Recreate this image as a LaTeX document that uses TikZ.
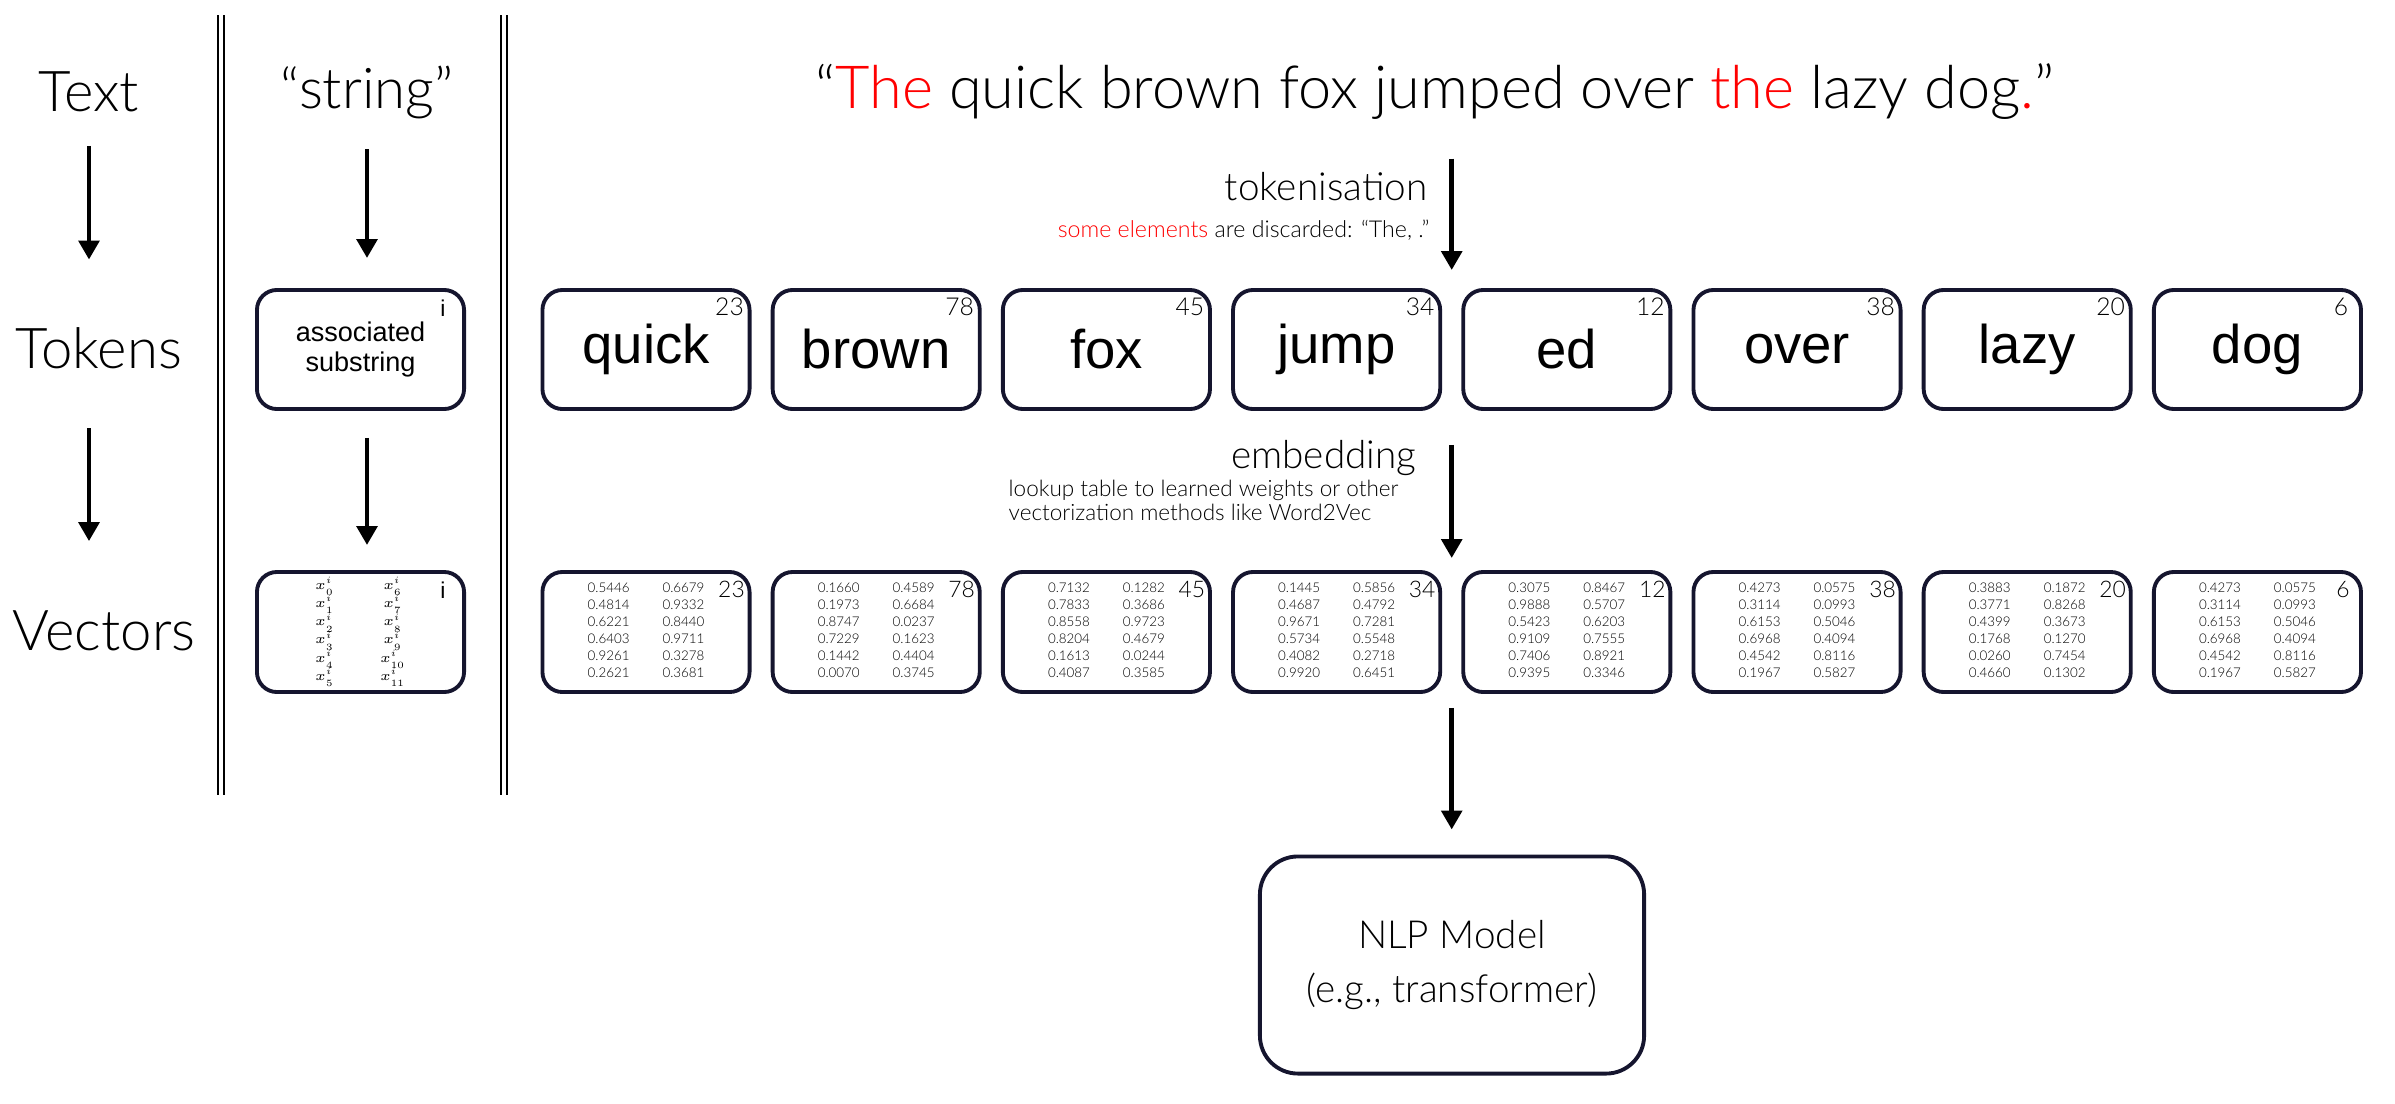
\documentclass[tikz,border=0pt]{standalone}
\usepackage{fix-cm}
\usepackage{fontspec}
\IfFontExistsTF{Lato Light}{\setmainfont{Lato Light}}{\setmainfont{Lato}}
\newfontfamily\helv{Liberation Sans}
\usetikzlibrary{arrows.meta,calc,positioning}
\definecolor{boxline}{HTML}{15152E}

% two columns of vector entries
\newcommand{\vpair}[2]{\makebox[21.3pt][l]{\begin{tabular}{@{}l@{}}#1\end{tabular}}\begin{tabular}{@{}l@{}}#2\end{tabular}}

\tikzset{
  arr/.style={line width=1.4pt, -{Triangle[width=5.8pt,length=5.4pt]}},
  sep/.style={double, double distance=1.3pt, line width=0.5pt},
  rbox/.style={draw=boxline, line width=1.1pt, rounded corners=0.2cm,
    minimum width=2.07cm, minimum height=1.19cm, inner sep=0pt},
  tokbox/.style={rbox, font=\helv\fontsize{15.5}{18}\selectfont},
  vecbox/.style={rbox, minimum height=1.2cm, font=\fontsize{3.8}{4.84}\selectfont},
  idx/.style={inner sep=0pt, font=\fontsize{7}{8}\selectfont},
  big/.style={inner sep=0pt, font=\fontsize{16}{19}\selectfont},
  mid/.style={inner sep=0pt, font=\fontsize{11}{12}\selectfont},
  small/.style={inner sep=0pt, font=\fontsize{6.6}{7}\selectfont}
}

\begin{document}
\begin{tikzpicture}[x=0.01cm, y=-0.01cm]
    \useasboundingbox (0,0) rectangle (2395,1103);

    % Left column
    \node[big] (lText) at (89,92) {Text};
    \node[big] (lTok) at (99,348) {Tokens};
    \node[big] (lVec) at (104,631) {Vectors};
    \draw[arr, shorten <=0.33cm, shorten >=0.67cm] (lText.south) -- (lText.south |- lTok.north);
    \draw[arr, shorten <=0.59cm, shorten >=0.69cm] (lText.south |- lTok.south) -- (lText.south |- lVec.north);

    % Separators
    \draw[sep] (221,15) -- (221,795);
    \draw[sep] (504,15) -- (504,795);

    % Generic token
    \node[big] (str) at (367,92) {“string”};
    \node[rbox, align=center, font=\helv\fontsize{7.7}{8.5}\selectfont] (sub) at (360.5,349.5) {associated\\substring};
    \node[idx, font=\helv\fontsize{6.5}{8}\selectfont] at ($(sub.north east)+(-23,20)$) {i};
    \node[vecbox, font=\fontsize{3.9}{4.84}\selectfont] (veci) at (360.5,632)
      {\begin{tabular}{@{}c@{\hspace{13pt}}c@{}}
        $x^i_0$ & $x^i_6$\\ $x^i_1$ & $x^i_7$\\ $x^i_2$ & $x^i_8$\\
        $x^i_3$ & $x^i_9$\\ $x^i_4$ & $x^i_{10}$\\ $x^i_5$ & $x^i_{11}$
      \end{tabular}};
    \node[idx, font=\helv\fontsize{6.5}{8}\selectfont] at ($(veci.north east)+(-23,20)$) {i};
    \draw[arr, shorten <=0.3cm, shorten >=0.3cm] (str.south) -- (str.south |- sub.north);
    \draw[arr, shorten <=0.27cm, shorten >=0.25cm] (str.south |- sub.south) -- (str.south |- veci.north);

    % Sentence
    \node[big, font=\fontsize{16.9}{19}\selectfont] (title) at (1435,92) {“\textcolor{red}{The} quick brown fox jumped over \textcolor{red}{the} lazy dog\textcolor{red}{.}”};

    % Tokens
    \foreach \w/\n/\k in {quick/23/0, brown/78/1, fox/45/2, jump/34/3, ed/12/4, over/38/5, lazy/20/6, dog/6/7} {
        \node[tokbox] (tok\k) at (646+230.2*\k,349.5) {\w};
        \node[idx] at ($(tok\k.north east)+(-22,19)$) {\n};
    }

    % Vectors
    \foreach \k/\n/\va/\vb in {
        0/23/{0.5446\\0.4814\\0.6221\\0.6403\\0.9261\\0.2621}/{0.6679\\0.9332\\0.8440\\0.9711\\0.3278\\0.3681},
        1/78/{0.1660\\0.1973\\0.8747\\0.7229\\0.1442\\0.0070}/{0.4589\\0.6684\\0.0237\\0.1623\\0.4404\\0.3745},
        2/45/{0.7132\\0.7833\\0.8558\\0.8204\\0.1613\\0.4087}/{0.1282\\0.3686\\0.9723\\0.4679\\0.0244\\0.3585},
        3/34/{0.1445\\0.4687\\0.9671\\0.5734\\0.4082\\0.9920}/{0.5856\\0.4792\\0.7281\\0.5548\\0.2718\\0.6451},
        4/12/{0.3075\\0.9888\\0.5423\\0.9109\\0.7406\\0.9395}/{0.8467\\0.5707\\0.6203\\0.7555\\0.8921\\0.3346},
        5/38/{0.4273\\0.3114\\0.6153\\0.6968\\0.4542\\0.1967}/{0.0575\\0.0993\\0.5046\\0.4094\\0.8116\\0.5827},
        6/20/{0.3883\\0.3771\\0.4399\\0.1768\\0.0260\\0.4660}/{0.1872\\0.8268\\0.3673\\0.1270\\0.7454\\0.1302},
        7/6/{0.4273\\0.3114\\0.6153\\0.6968\\0.4542\\0.1967}/{0.0575\\0.0993\\0.5046\\0.4094\\0.8116\\0.5827}} {
        \node[vecbox] (vec\k) at (646+230.2*\k,632) {\vpair{\va}{\vb}};
        \node[idx, font=\fontsize{6.5}{8}\selectfont] at ($(vec\k.north east)+(-20,19)$) {\n};
    }

    % Model
    \node[draw=boxline, line width=1.1pt, rounded corners=0.38cm, minimum width=3.84cm,
      minimum height=2.17cm, align=center, font=\fontsize{11}{15.4}\selectfont] (nlp) at (1452,965)
      {NLP Model\\(e.g., transformer)};

    % Steps
    \coordinate (g1) at ($(tok3.north east)!0.5!(tok4.north west)$);
    \coordinate (g2) at ($(tok3.south east)!0.5!(tok4.south west)$);
    \coordinate (g3) at ($(vec3.south east)!0.5!(vec4.south west)$);
    \draw[arr, shorten <=0.38cm, shorten >=0.18cm] (title.south -| g1) -- (g1);
    \draw[arr, shorten <=0.34cm, shorten >=0.12cm] (g2) -- (g2 |- vec4.north);
    \draw[arr, shorten <=0.14cm, shorten >=0.25cm] (g3) -- (g3 |- nlp.north);

    \node[mid, anchor=east] (tkn) at (1428,187) {tokenisation};
    \node[small, anchor=east] (disc) at (1430,230) {\textcolor{red}{some elements} are discarded: “The, .”};
    \node[mid, anchor=east] (emb) at (1417,458) {embedding};
    \node[small, anchor=west, align=left, font=\fontsize{6.4}{5.8}\selectfont] (look) at (1008,500)
      {lookup table to learned weights or other\\vectorization methods like Word2Vec};
\end{tikzpicture}
\end{document}
